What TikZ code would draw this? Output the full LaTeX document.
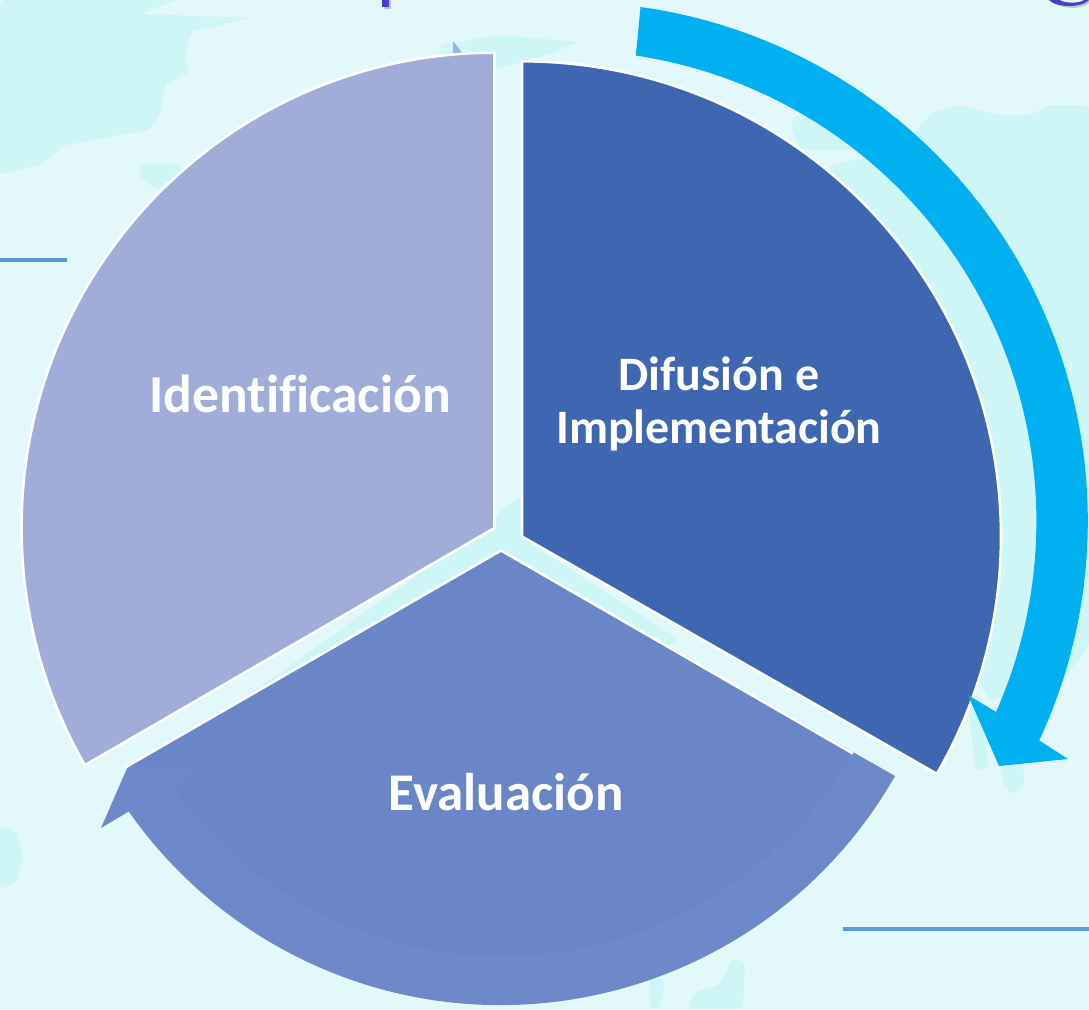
\documentclass[tikz,border=0pt]{standalone}
\usepackage{fontspec}
\setmainfont{Carlito}[Ligatures=NoCommon]
\definecolor{bgpale}{HTML}{E3F8FB}
\definecolor{land}{HTML}{CFF6F6}
\definecolor{secleft}{HTML}{A0ADD8}
\definecolor{secright}{HTML}{3F66B0}
\definecolor{secbot}{HTML}{6A86C7}
\definecolor{arrbot}{HTML}{6E89C9}
\definecolor{arrcyan}{HTML}{00B0F0}
\definecolor{rulecol}{HTML}{5B9BD5}
\definecolor{titlecol}{HTML}{4A3FC8}
\tikzset{
  landblob/.style={fill=land,draw=none,rounded corners=5pt},
  seclabel/.style={text=white,font=\bfseries\fontsize{53.5}{53}\selectfont,align=center,inner sep=0pt},
  secedge/.style={draw=white,line width=2.6pt,line join=miter},
  rulerline/.style={draw=rulecol,line width=3.5pt}
}
\begin{document}
\begin{tikzpicture}[x=1pt,y=1pt]
\useasboundingbox (0,0) rectangle (1089,-1009);
\fill[bgpale] (0,0) rectangle (1089,-1009);
% pale map shapes
\fill[landblob] (0,0) -- (178,0) -- (140,-14) -- (250,-18) -- (190,-32) -- (185,-60) -- (190,-72) -- (165,-85) -- (160,-115) -- (150,-130) -- (65,-145) -- (40,-165) -- (0,-175) -- cycle;
\fill[landblob] (140,-165) -- (165,-163) -- (185,-168) -- (158,-190) -- (140,-178) -- cycle;
\fill[landblob] (0,-825) -- (15,-830) -- (23,-855) -- (18,-880) -- (0,-890) -- cycle;
\fill[landblob] (687,-1009) -- (695,-992) -- (720,-985) -- (733,-958) -- (745,-962) -- (743,-1009) -- cycle;
\fill[landblob] (650,-1009) -- (650,-975) -- (665,-980) -- (660,-1009) -- cycle;
\fill[landblob] (440,-45) -- (500,-35) -- (580,-42) -- (545,-55) -- (495,-70) -- (440,-55) -- cycle;
\fill[landblob] (790,-125) -- (800,-112) -- (880,-112) -- (835,-130) -- (850,-150) -- (800,-150) -- cycle;
\fill[landblob] (932,-113) -- (960,-105) -- (1000,-115) -- (1030,-115) -- (1050,-105) -- (1089,-105) -- (1089,-645) -- (1063,-680) -- (1040,-690) -- (990,-700) -- (820,-400) -- (830,-165) -- (900,-150) -- cycle;
\fill[landblob] (968,-700) -- (985,-710) -- (988,-770) -- (975,-770) -- cycle;
\fill[landblob] (1000,-740) -- (1020,-740) -- (1025,-785) -- (1012,-795) -- (1003,-785) -- cycle;
\fill[landblob] (495,-520) -- (500,-510) -- (525,-495) -- (525,-540) -- (680,-640) -- (640,-660) -- (500,-600) -- (185,-770) -- (185,-740) -- cycle;
% sectors
\fill[secleft] (453,-41) -- (463,-54) -- (453,-57) -- cycle;
\path[fill=secleft,secedge] (494.5,-528) -- (494.5,-52.7) arc[start angle=90,end angle=210,x radius=473pt,y radius=475pt] -- cycle;
\path[fill=secright,secedge] (522,-536.5) -- (522,-61.3) arc[start angle=90,end angle=-30,x radius=479pt,y radius=475pt] -- cycle;
% circular arrow of the bottom sector
\fill[arrbot] (895,-776) arc[start angle=-29.7,end angle=-145,radius=454pt] -- (101,-828) -- (128,-766) -- (501,-551) -- cycle;
\fill[secbot] (501,-551) -- (128,-766) -- (200,-770) -- (173,-788) arc[start angle=-144.2,end angle=-30.2,radius=405pt] -- cycle;
\draw[secedge] (125,-767.5) -- (501,-550.5) -- (853,-753.5);
% outer cyan arrow
\fill[arrcyan] (640.5,-7) arc[start angle=82.06,end angle=-25,radius=519pt] -- (1068,-759) -- (999,-766) -- (968,-695) -- (996,-712) arc[start angle=-23.9,end angle=81.4,radius=471pt] -- cycle;
% rules
\draw[rulerline] (0,-260) -- (67,-260);
\draw[rulerline] (843,-929) -- (1089,-929);
% cropped title remnants
\fill[black!45,opacity=.5] (384,0) rectangle (391,-9);
\fill[titlecol] (382,0) rectangle (389,-7);
\fill[black!40,opacity=.5] (1052,0) .. controls (1058,-10) and (1082,-10) .. (1089,-3) -- (1089,0) -- cycle;
\fill[titlecol] (1049,0) .. controls (1056,-8) and (1082,-8) .. (1089,0) -- cycle;
\fill[bgpale] (1060,0) .. controls (1066,-3.5) and (1078,-3.5) .. (1084,0) -- cycle;
% labels
\node[seclabel] (identificacion) at (300,-394) {Identificación};
\node[seclabel,font=\bfseries\fontsize{48}{53}\selectfont] (difusion) at (719,-403.5) {Difusión e\\Implementación};
\node[seclabel,font=\bfseries\fontsize{53}{53}\selectfont] (evaluacion) at (506,-792) {Evaluación};
\end{tikzpicture}
\end{document}
